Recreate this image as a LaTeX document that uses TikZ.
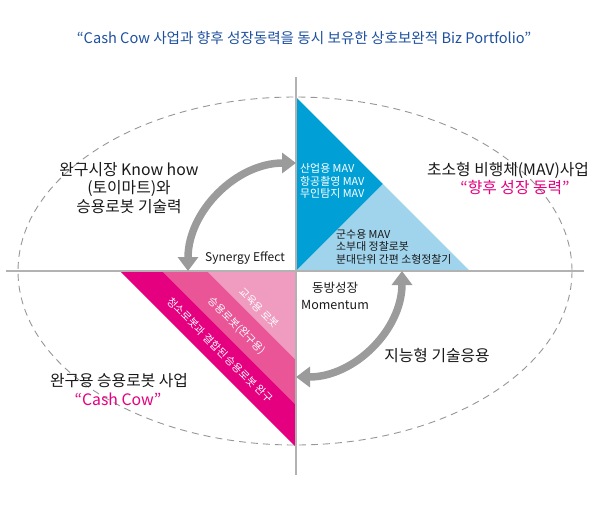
\documentclass[tikz,border=0pt]{standalone}
\usepackage{fontspec}
\setmainfont{Noto Sans CJK KR}
\usetikzlibrary{arrows.meta}
\definecolor{titleblue}{RGB}{30,80,160}
\definecolor{cyanD}{RGB}{0,160,214}
\definecolor{cyanL}{RGB}{160,212,236}
\definecolor{magD}{RGB}{228,0,127}
\definecolor{magM}{RGB}{233,85,150}
\definecolor{magL}{RGB}{240,155,192}
\definecolor{axisgray}{RGB}{178,178,178}
\definecolor{arrowgray}{RGB}{155,155,155}
\definecolor{ellgray}{RGB}{150,150,150}
\begin{document}
\begin{tikzpicture}[x=1pt,y=-1pt,
  bigarrow/.style={draw=arrowgray, line width=7.5pt,
    {Triangle[width=20pt,length=14pt]}-{Triangle[width=20pt,length=14pt]}},
  axisline/.style={draw=axisgray, line width=2.5pt},
  lbl/.style={inner sep=0pt, align=center, text=black!90},
  bigtxt/.style={lbl, font=\fontsize{15.8}{18.5}\selectfont},
  smalltxt/.style={inner sep=0pt, align=left, font=\fontsize{10.9}{12.4}\selectfont},
  bandtxt/.style={inner sep=0pt, text=white, rotate=-45, font=\fontsize{10.6}{12}\selectfont}]
\useasboundingbox (0,0) rectangle (605,504);
% key points
\coordinate (O) at (296,271);
\coordinate (bT) at (296,97);
\coordinate (bR) at (470,271);
\coordinate (bM) at (383,184);
\coordinate (pL) at (120,271);
\coordinate (pB) at (296,447);
\coordinate (p1) at (162,271);
\coordinate (p1b) at (296,405);
\coordinate (p2) at (207,271);
\coordinate (p2b) at (296,360);
% ellipse
\draw[ellgray, line width=0.9pt, dash pattern=on 7pt off 5pt] (295,271) ellipse [x radius=277, y radius=174];
% blue triangle
\fill[cyanD] (bT) -- (O) -- (bM) -- cycle;
\fill[cyanL] (O) -- (bR) -- (bM) -- cycle;
% pink triangle
\fill[magD] (pL) -- (O) -- (pB) -- cycle;
\fill[magM] (p1) -- (O) -- (p1b) -- cycle;
\fill[magL] (p2) -- (O) -- (p2b) -- cycle;
% axes
\coordinate (axL) at (6,271);
\coordinate (axR) at (584,271);
\coordinate (axT) at (296,77);
\coordinate (axB) at (296,475);
\draw[axisline] (axL) -- (axR);
\draw[axisline] (axT) -- (axB);
% arrows
\coordinate (aL) at (188,271);
\coordinate (aR) at (402,271);
\draw[bigarrow] (aL) arc[start angle=180, end angle=270, radius=108];
\draw[bigarrow] (aR) arc[start angle=0, end angle=90, radius=106];
% title
\node[inner sep=0pt, text=titleblue, font=\fontsize{14.6}{16}\selectfont] (title) at (304,38)
  {“Cash Cow 사업과 향후 성장동력을 동시 보유한 상호보완적 Biz Portfolio”};
% left upper
\node[bigtxt] (knowhow) at (129,188) {완구시장 Know how\\(토이마트)와\\승용로봇 기술력};
% right upper
\node[bigtxt] (mav) at (508,170) {초소형 비행체(MAV)사업};
\node[bigtxt, text=magD] (future) at (515,188) {“향후 성장 동력”};
% blue texts
\node[smalltxt, text=white, anchor=west] (bluetxt) at (300,181) {산업용 MAV\\항공촬영 MAV\\무인탐지 MAV};
\node[smalltxt, text=black!90, anchor=west] (lbluetxt) at (336,247) {군수용 MAV\\소부대 정찰로봇\\분대단위 간편 소형정찰기};
% center labels
\node[lbl, font=\fontsize{12}{13}\selectfont] (syn) at (245,258) {Synergy Effect};
\node[lbl, font=\fontsize{12.5}{16.5}\selectfont] (mom) at (335,296) {동방성장\\Momentum};
\node[bigtxt] (ai) at (437,356) {지능형 기술응용};
% left lower
\node[bigtxt] (toy) at (119,381) {완구용 승용로봇 사업};
\node[bigtxt, text=magD] (cash) at (118,399) {“Cash Cow”};
% band texts
\node[bandtxt] (band1) at (259,308) {교육용 로봇};
\node[bandtxt] (band2) at (237,326) {승용로봇(완구용)};
\node[bandtxt] (band3) at (220,350) {청소로봇과 결합된 승용로봇 완구};
\end{tikzpicture}
\end{document}
